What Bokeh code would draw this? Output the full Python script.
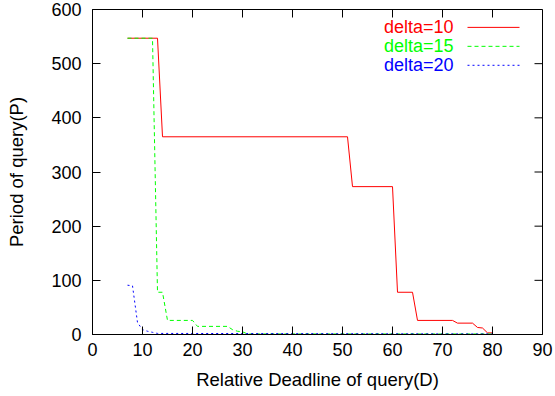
import math
from bokeh.plotting import figure
from bokeh.models import Range1d, FixedTicker, Label, Arrow
from bokeh.embed import file_html
from bokeh.resources import INLINE

# Data
red_x = [7, 13, 14, 51, 52, 60, 61, 64, 65, 72, 73, 76, 77, 78, 79, 80]
red_y = [547, 547, 365, 365, 273, 273, 78, 78, 26, 26, 21, 21, 13, 12, 3, 3]
green_x = [7, 12, 13, 14, 15, 20, 21, 27, 28, 29, 30, 31, 80]
green_y = [547, 547, 78, 78, 26, 26, 15, 15, 9, 6, 5, 1, 1]
blue_x = [7, 8, 9, 10, 11, 12, 13, 80]
blue_y = [91, 90, 22, 9, 6, 4, 2, 1]

series_names = ["delta=10", "delta=15", "delta=20"]
x_ticks = [0, 10, 20, 30, 40, 50, 60, 70, 80, 90]
y_ticks = [0, 100, 200, 300, 400, 500, 600]
X_MAX = 90
Y_MAX = 600

FONT = "Liberation Sans"
FS = "18px"

p = figure(width=555, height=396, output_backend="svg", toolbar_location=None,
           x_range=Range1d(0, X_MAX), y_range=Range1d(0, Y_MAX),
           min_border_left=92, min_border_right=13, min_border_top=9, min_border_bottom=62)
p.grid.visible = False
p.outline_line_color = "black"
p.outline_line_width = 1
p.background_fill_color = "white"
p.border_fill_color = "white"

for ax in (p.xaxis[0], p.yaxis[0]):
    ax.axis_line_color = "black"
    ax.axis_line_width = 1
    ax.major_tick_in = 8
    ax.major_tick_out = 0
    ax.minor_tick_line_color = None
    ax.major_tick_line_color = "black"
    ax.major_label_text_font = FONT
    ax.major_label_text_color = "black"
    ax.major_label_text_font_size = FS
    ax.axis_label_text_font = FONT
    ax.axis_label_text_font_size = "18.5px"
    ax.axis_label_text_font_style = "normal"
    ax.axis_label_text_color = "black"

p.xaxis.ticker = FixedTicker(ticks=x_ticks)
p.yaxis.ticker = FixedTicker(ticks=y_ticks)
p.xaxis.axis_label = "Relative Deadline of query(D)"
p.yaxis.axis_label = "Period of query(P)"
p.xaxis.major_label_standoff = 8
p.yaxis.major_label_standoff = 11
p.xaxis.axis_label_standoff = 10
p.yaxis.axis_label_standoff = 21

# mirrored inward ticks on top and right edges
p.ray(x=x_ticks, y=[Y_MAX] * len(x_ticks), length=8, length_units="screen",
      angle=-math.pi / 2, line_color="black", line_width=1)
p.ray(x=[X_MAX] * len(y_ticks), y=y_ticks, length=8, length_units="screen",
      angle=math.pi, line_color="black", line_width=1)

colors = ["#ff0000", "#00ff00", "#0000ff"]
dashes = ["solid", "4 3", "2 3"]
xs = [red_x, green_x, blue_x]
ys = [red_y, green_y, blue_y]
for sx, sy, c, d in zip(xs, ys, colors, dashes):
    p.line(sx, sy, line_color=c, line_width=1, line_dash=d)

# manual legend (text left, sample right, coloured text)
leg_rows = [567, 532, 497]
for name, c, d, ry in zip(series_names, colors, dashes, leg_rows):
    p.add_layout(Label(x=72.2, y=ry, text=name, text_align="right", text_baseline="middle",
                       text_color=c, text_font=FONT, text_font_size=FS))
    p.add_layout(Arrow(end=None, x_start=75, y_start=ry, x_end=85.4, y_end=ry,
                       line_color=c, line_width=1, line_dash=d))

open("out.html", "w").write(file_html(p, INLINE))
